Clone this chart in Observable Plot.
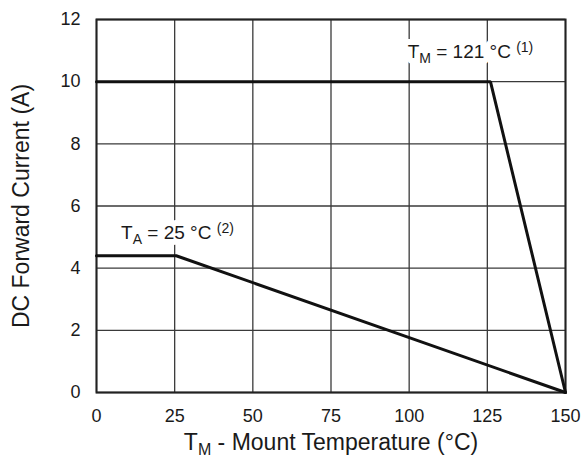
<!DOCTYPE html>
<html>
<head>
<meta charset="utf-8">
<script src="https://cdn.jsdelivr.net/npm/d3@7"></script>
<script src="https://cdn.jsdelivr.net/npm/@observablehq/plot@0.6"></script>
<style>
  html, body { margin: 0; padding: 0; background: #fff; }
  #chart { width: 584px; height: 459px; }
  svg { font-family: "Liberation Sans", Arial, Helvetica, sans-serif; }
</style>
</head>
<body>
<div id="chart"></div>
<script>
// ---- data ----
const xTicks = [0, 25, 50, 75, 100, 125, 150];
const yTicks = [0, 2, 4, 6, 8, 10, 12];

// Mount-temperature derating (TM)
const tmTemp = [0, 126, 150];
const tmCurrent = [10, 10, 0];

// Ambient derating (TA)
const taTemp = [0, 25.5, 150];
const taCurrent = [4.4, 4.4, 0];

// annotation labels
const labelMain = ["T", "T"];
const labelSub = ["M", "A"];
const labelRest = [" = 121 °C ", " = 25 °C "];
const labelSup = ["(1)", "(2)"];
const labelX = [119.6, 25.9];
const labelY = [10.95, 5.12];

const xLabelMain = "T";
const xLabelSub = "M";
const xLabelRest = " - Mount Temperature (°C)";
const yLabel = "DC Forward Current (A)";

const tm = tmTemp.map((t, i) => ({t, c: tmCurrent[i]}));
const ta = taTemp.map((t, i) => ({t, c: taCurrent[i]}));
const labels = labelMain.map((m, i) => ({x: labelX[i], y: labelY[i], i}));
const labelString = i => labelMain[i] + labelSub[i] + labelRest[i] + labelSup[i];

const plot = Plot.plot({
  width: 584,
  height: 459,
  marginLeft: 96,
  marginRight: 19,
  marginTop: 19,
  marginBottom: 67,
  style: {fontFamily: '"Liberation Sans", Arial, Helvetica, sans-serif', color: "#1a1a1a", background: "#fff"},
  x: {domain: [0, 150]},
  y: {domain: [0, 12]},
  marks: [
    Plot.gridX(xTicks, {stroke: "#3a3a3a", strokeOpacity: 1, strokeWidth: 1.3}),
    Plot.gridY(yTicks, {stroke: "#3a3a3a", strokeOpacity: 1, strokeWidth: 1.3}),
    Plot.frame({stroke: "#222", strokeWidth: 2}),
    Plot.axisX(xTicks, {tickSize: 0, tickPadding: 17, fontSize: 18, label: xLabelMain + xLabelSub + xLabelRest, labelAnchor: "center", labelArrow: "none", labelOffset: 57}),
    Plot.axisY(yTicks, {tickSize: 0, tickPadding: 16, fontSize: 18, label: yLabel, labelAnchor: "center", labelArrow: "none", labelOffset: 84}),
    Plot.line(tm, {x: "t", y: "c", stroke: "#111", strokeWidth: 3, strokeLinejoin: "miter"}),
    Plot.line(ta, {x: "t", y: "c", stroke: "#111", strokeWidth: 3, strokeLinejoin: "miter"}),
    Plot.text(labels, {x: "x", y: "y", text: d => labelString(d.i), fontSize: 19, fill: "#1a1a1a", stroke: "white", strokeWidth: 12})
  ]
});

document.getElementById("chart").appendChild(plot);

// subscripts / superscripts
const svgNS = "http://www.w3.org/2000/svg";
function tsp(txt, attrs) {
  const t = document.createElementNS(svgNS, "tspan");
  t.textContent = txt;
  for (const k in attrs || {}) t.setAttribute(k, attrs[k]);
  return t;
}
const allText = Array.from(plot.querySelectorAll("text"));
labels.forEach(d => {
  const i = d.i;
  const el = allText.find(e => e.textContent === labelString(i));
  if (!el) return;
  el.textContent = "";
  el.appendChild(tsp(labelMain[i]));
  el.appendChild(tsp(labelSub[i], {dy: "5", "font-size": "14"}));
  el.appendChild(tsp(labelRest[i], {dy: "-5"}));
  el.appendChild(tsp(labelSup[i], {dy: "-6", "font-size": "14"}));
});
const xl = allText.find(e => e.textContent === xLabelMain + xLabelSub + xLabelRest);
if (xl) {
  xl.textContent = "";
  xl.appendChild(tsp(xLabelMain));
  xl.appendChild(tsp(xLabelSub, {dy: "5", "font-size": "16"}));
  xl.appendChild(tsp(xLabelRest, {dy: "-5"}));
  xl.setAttribute("font-size", "23");
}
const yl = allText.find(e => e.textContent === yLabel);
if (yl) yl.setAttribute("font-size", "23");
</script>
</body>
</html>
